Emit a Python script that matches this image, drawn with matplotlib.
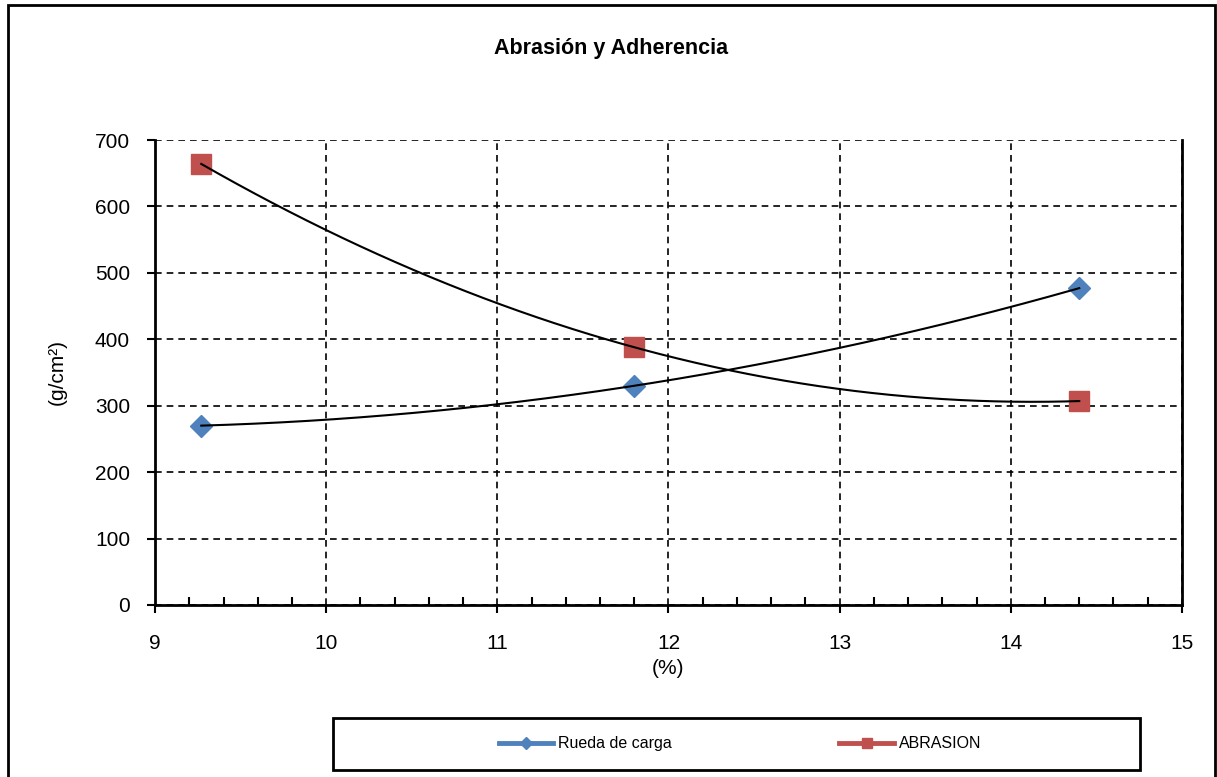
import numpy as np
import matplotlib
matplotlib.use('Agg')
import matplotlib.pyplot as plt
from matplotlib.lines import Line2D
from matplotlib.patches import Rectangle
from matplotlib.ticker import MultipleLocator

plt.rcParams['font.family'] = ['Liberation Sans', 'DejaVu Sans']

# DATOS
porcentaje = [9.27, 11.8, 14.4]
rueda_carga = [270, 330, 477]
abrasion = [664, 388, 307]
titulo = 'Abrasión y Adherencia'
nombres = ['Rueda de carga', 'ABRASION']

azul = '#4F81BD'
rojo = '#C0504D'

fig = plt.figure(figsize=(12.17, 7.77), dpi=100)
ax = fig.add_axes([0.1274, 0.2214, 0.8438, 0.5984])

# marcadores
ax.plot(porcentaje, rueda_carga, linestyle='none', marker='D', markersize=11.5,
        color=azul, zorder=3)
ax.plot(porcentaje, abrasion, linestyle='none', marker='s', markersize=14,
        color=rojo, zorder=3)

# lineas de tendencia (polinomio grado 2)
xx = np.linspace(min(porcentaje), max(porcentaje), 200)
for serie in (rueda_carga, abrasion):
    coef = np.polyfit(porcentaje, serie, 2)
    ax.plot(xx, np.polyval(coef, xx), color='black', lw=1.5, zorder=4)

ax.set_xlim(9, 15)
ax.set_ylim(0, 700)
ax.xaxis.set_major_locator(MultipleLocator(1))
ax.xaxis.set_minor_locator(MultipleLocator(0.2))
ax.yaxis.set_major_locator(MultipleLocator(100))
ax.grid(True, which='major', color='black', linestyle=(0, (4, 3)), lw=1.2)
ax.set_axisbelow(True)

ax.spines['top'].set_visible(False)
for s in ('left', 'bottom', 'right'):
    ax.spines[s].set_linewidth(2)
ax.tick_params(axis='both', which='major', direction='out', length=6, width=1.5,
               labelsize=15, colors='black', pad=12)
ax.tick_params(axis='x', which='minor', direction='in', length=6, width=1.5)
ax.tick_params(axis='x', which='major', pad=15)

ax.set_xlabel('(%)', fontsize=15, labelpad=4)
ax.set_ylabel('(g/cm²)', fontsize=15, labelpad=20)

fig.text(0.5017, 0.937, titulo, ha='center', va='center', fontsize=15.5,
         fontweight='bold')

# borde exterior
fig.patches.append(Rectangle((8 / 1217, -0.01), 1207 / 1217, 1.01 - 5 / 777,
                             transform=fig.transFigure, fill=False,
                             edgecolor='black', lw=2))

# leyenda
fig.patches.append(Rectangle((333 / 1217, 7 / 777), 807 / 1217, 52 / 777,
                             transform=fig.transFigure, fill=False,
                             edgecolor='black', lw=2))
handles = [Line2D([], [], color=azul, lw=3.5, marker='D', markersize=6),
           Line2D([], [], color=rojo, lw=3.5, marker='s', markersize=7)]
fig.legend(handles, nombres, loc='center', bbox_to_anchor=(0.608, 0.0425),
           ncol=2, frameon=False, fontsize=11.5, columnspacing=10.5,
           handlelength=3.4, handletextpad=0.3)

plt.savefig('out.png', dpi=100)
